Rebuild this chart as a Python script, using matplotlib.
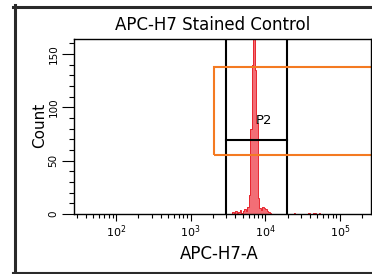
import matplotlib
matplotlib.use('Agg')
import matplotlib.pyplot as plt
import numpy as np
from matplotlib.lines import Line2D
from matplotlib.patches import Rectangle
from matplotlib.ticker import LogLocator, MultipleLocator, FixedLocator

# ========== data ==========
title = 'APC-H7 Stained Control'
x_label = 'APC-H7-A'
y_label = 'Count'

# histogram: log10 of first bin edge, bin width in decades, counts per bin
bin_start = 3.54
bin_width = 0.02
counts = [0, 2, 1, 3, 0, 2, 4, 1, 3, 5, 3, 7, 18, 80, 140, 240, 135, 85, 15, 6,
          4, 7, 6, 5, 3, 2, 1, 0, 0, 0, 0, 0, 0, 0, 0, 0, 0, 0, 0, 0,
          0, 0, 1, 0, 0, 0, 0, 0, 0, 0, 0, 0, 1, 0, 0, 1, 1, 0, 0, 1, 0]

# P2 gate (interval) and orange region
p2_lo, p2_hi, p2_y = 2980, 19500, 69
p2_label = 'P2'
box_x0, box_y0, box_y1 = 2060, 55.6, 138

x_min, x_max = 27.4, 262144
y_min, y_max = 0, 164

W, H = 372, 274
fig = plt.figure(figsize=(W / 100, H / 100), dpi=100)
fig.patch.set_facecolor('white')

# axes in pixel box
ax_l, ax_r, ax_t, ax_b = 74, 371, 39, 214
ax = fig.add_axes([ax_l / W, 1 - ax_b / H, (ax_r - ax_l) / W, (ax_b - ax_t) / H])

edges = 10 ** (bin_start + bin_width * np.arange(len(counts) + 1))
ax.stairs(counts, edges, fill=True, color='#F26E76', zorder=2)
ax.stairs(counts, edges, color='#E8262E', lw=0.7, zorder=2.1)

# gate
ax.plot([p2_lo, p2_lo], [y_min, y_max], color='black', lw=1.5, zorder=3)
ax.plot([p2_hi, p2_hi], [y_min, y_max], color='black', lw=1.5, zorder=3)
ax.plot([p2_lo, p2_hi], [p2_y, p2_y], color='black', lw=1.5, zorder=3)
ax.text(7500, 88, p2_label, fontsize=9.5, va='center', ha='left', zorder=4)

# orange box
ax.add_patch(Rectangle((box_x0, box_y0), 1e7, box_y1 - box_y0, fill=False,
                       edgecolor='#F47A22', lw=1.5, zorder=3.5))

ax.set_xscale('log')
ax.set_xlim(x_min, x_max)
ax.set_ylim(y_min, y_max)

ax.xaxis.set_major_locator(FixedLocator([1e2, 1e3, 1e4, 1e5]))
ax.xaxis.set_minor_locator(LogLocator(base=10, subs=np.arange(2, 10), numticks=20))
ax.set_xticklabels([r'$\mathregular{10^{2}}$', r'$\mathregular{10^{3}}$',
                    r'$\mathregular{10^{4}}$', r'$\mathregular{10^{5}}$'])
ax.yaxis.set_major_locator(FixedLocator([0, 50, 100, 150]))
ax.yaxis.set_minor_locator(MultipleLocator(10))
ax.set_yticklabels(['0', '50', '100', '150'], rotation=90, va='center')

ax.tick_params(axis='x', which='major', length=5, width=0.8, labelsize=8, pad=2)
ax.tick_params(axis='x', which='minor', length=3.2, width=0.8)
ax.tick_params(axis='y', which='major', length=8.6, width=0.8, labelsize=7.5, pad=2.5)
ax.tick_params(axis='y', which='minor', length=3.6, width=0.8)
for s in ax.spines.values():
    s.set_linewidth(1.0)
    s.set_zorder(5)

fig.text(213 / W, 1 - 25 / H, title, fontsize=12, ha='center', va='center')
fig.text(219 / W, 1 - 254 / H, x_label, fontsize=12, ha='center', va='center')
fig.text(40 / W, 1 - 125 / H, y_label, fontsize=11, ha='center', va='center', rotation=90)

# outer frame
fc = '#2a2a2a'
fig.add_artist(Line2D([14.5 / W, 14.5 / W], [1 - 5 / H, 1 - 273 / H], color=fc, lw=2.2))
fig.add_artist(Line2D([13 / W, 1.0], [1 - 6.5 / H, 1 - 6.5 / H], color=fc, lw=2.2))
fig.add_artist(Line2D([13 / W, 1.0], [1 - 272.5 / H, 1 - 272.5 / H], color=fc, lw=1.5))

fig.savefig('out.png', dpi=100)
